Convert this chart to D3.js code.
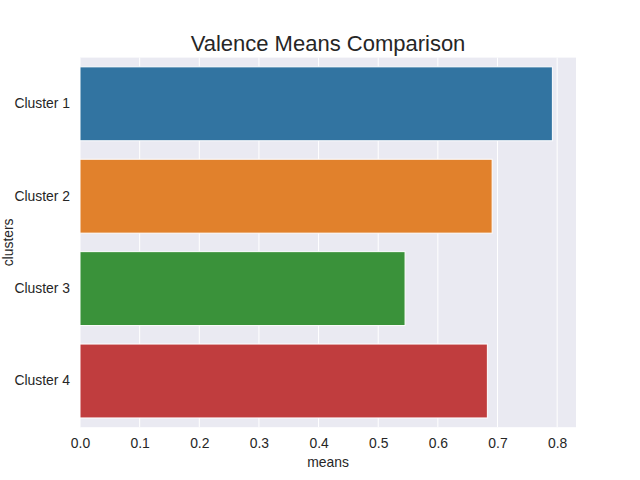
<!DOCTYPE html>
<html><head><meta charset="utf-8">
<script src="https://cdn.jsdelivr.net/npm/d3@7"></script>
<style>body{margin:0;background:#fff}svg{display:block}text{font-family:"Liberation Sans",Arial,sans-serif}</style>
</head><body>
<script>
const categories = ["Cluster 1","Cluster 2","Cluster 3","Cluster 4"];
const means = [0.792, 0.691, 0.545, 0.683];
const colors = ["#3274a1","#e1812c","#3a923a","#c03d3e"];
const xTicks = [0,0.1,0.2,0.3,0.4,0.5,0.6,0.7,0.8];

const W=640,H=480, L=80, R=576, T=57.6, B=427.2;
const svg=d3.select("body").append("svg").attr("width",W).attr("height",H);
svg.append("rect").attr("width",W).attr("height",H).attr("fill","#fff");
const x=d3.scaleLinear().domain([0,d3.max(means)*1.05]).range([L,R]);
const y=d3.scaleBand().domain(categories).range([T,B]).paddingInner(0.2).paddingOuter(0.1);
svg.append("rect").attr("x",L).attr("y",T).attr("width",R-L).attr("height",B-T).attr("fill","#eaeaf2");
svg.append("g").selectAll("line").data(xTicks).join("line")
  .attr("x1",d=>x(d)).attr("x2",d=>x(d)).attr("y1",T).attr("y2",B)
  .attr("stroke","#fff").attr("stroke-width",1);
svg.append("g").selectAll("rect").data(categories).join("rect")
  .attr("x",x(0)).attr("y",d=>y(d)).attr("width",(d,i)=>x(means[i])-x(0)).attr("height",y.bandwidth())
  .attr("fill",(d,i)=>colors[i]).attr("stroke","#fff").attr("stroke-width",1);
// x axis
const xa=svg.append("g").attr("transform",`translate(0,${B})`).call(d3.axisBottom(x).tickValues(xTicks).tickFormat(d3.format(".1f")).tickSize(0).tickPadding(11));
xa.select(".domain").remove();
xa.selectAll("text").attr("font-size","13.9px").attr("fill","#262626").attr("font-family","Liberation Sans, Arial, sans-serif");
const ya=svg.append("g").attr("transform",`translate(${L},0)`).call(d3.axisLeft(y).tickSize(0).tickPadding(10));
ya.select(".domain").remove();
ya.selectAll("text").attr("font-size","13.9px").attr("fill","#262626").attr("font-family","Liberation Sans, Arial, sans-serif");
svg.append("text").attr("x",(L+R)/2).attr("y",51).attr("text-anchor","middle").attr("font-size","22px").attr("fill","#262626").text("Valence Means Comparison");
svg.append("text").attr("x",(L+R)/2).attr("y",467).attr("text-anchor","middle").attr("font-size","13.9px").attr("fill","#262626").text("means");
svg.append("text").attr("transform",`translate(13,${(T+B)/2}) rotate(-90)`).attr("text-anchor","middle").attr("font-size","13.9px").attr("fill","#262626").text("clusters");
</script>
</body></html>
